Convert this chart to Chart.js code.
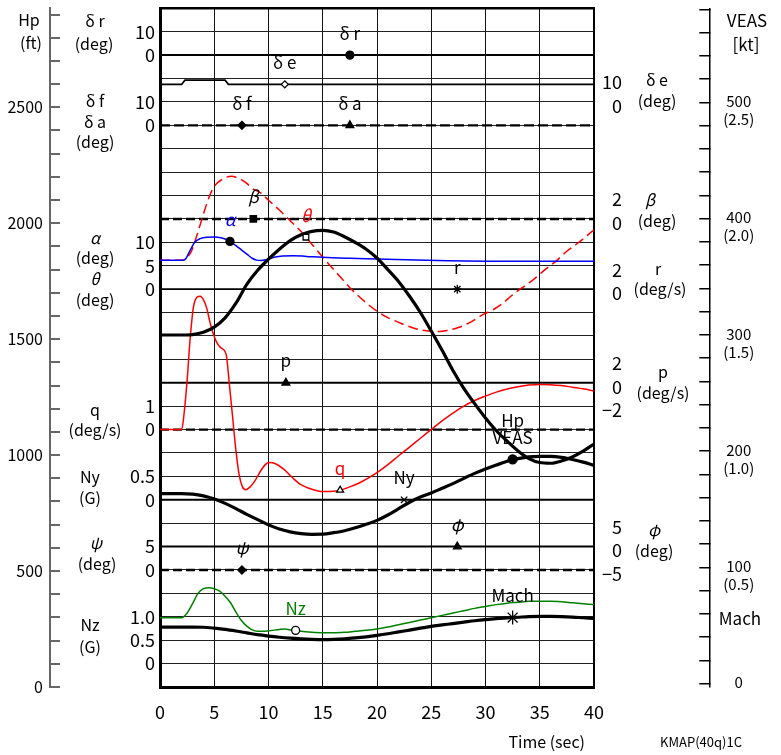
<!DOCTYPE html>
<html>
<head>
<meta charset="utf-8">
<script src="https://cdn.jsdelivr.net/npm/chart.js@4.4.1/dist/chart.umd.min.js"></script>
<style>
  html, body { margin: 0; padding: 0; background: #fff; }
  #wrap { width: 781px; height: 755px; position: relative; }
</style>
</head>
<body>
<div id="wrap"><canvas id="chart"></canvas></div>
<script>
// ── Data: [time (sec), value in the variable's own unit] ─────────────────────

const TIME_TICKS = [0, 5, 10, 15, 20, 25, 30, 35, 40];
const HP_LABELS = [0, 500, 1000, 1500, 2000, 2500];
const VEAS_LABELS = [0, 100, 200, 300, 400, 500];

const FLAT = [[0, 0], [40, 0]];               // traces that stay at zero
const DE = [[0, 7.5], [2.0, 7.5], [2.3, 9.3], [6.0, 9.3], [6.3, 7.5], [40, 7.5]];

const ALPHA = [[0, 6.15], [2, 6.15], [2.3, 6.3], [2.8, 8.4], [3.2, 10.0], [3.7, 10.8], [4.3, 11.1],
  [5, 11.15], [5.6, 11.0], [6, 10.7], [6.45, 10.2], [7, 9.3], [7.5, 8.4], [8, 7.5], [8.5, 6.6],
  [8.9, 6.2], [9.3, 6.1], [9.8, 6.3], [10.5, 6.8], [11.3, 7.1], [12.3, 7.15], [13.5, 7.0],
  [15, 6.8], [17.5, 6.6], [20, 6.45], [24.6, 6.15], [30.7, 5.95], [40, 5.95]];

const THETA = [[0, 6.15], [2, 6.15], [2.5, 6.8], [2.9, 8.1], [3.4, 11.5], [3.84, 14.8], [4.3, 18.2],
  [4.75, 20.9], [5.2, 22.5], [5.7, 23.4], [6.1, 23.9], [6.6, 24.1], [7.0, 23.9], [7.5, 23.4],
  [8.0, 22.6], [8.45, 21.6], [9.3, 20.5], [10, 19.0], [11, 16.9], [12, 14.6], [13, 12.3],
  [13.45, 11.1], [14, 9.6], [15.05, 6.7], [16, 4.2], [17, 1.6], [17.5, 0.3], [18.5, -1.9],
  [19.3, -3.5], [20, -4.7], [21, -6.1], [22, -7.1], [22.4, -7.5], [23.5, -8.4], [24.9, -9.0],
  [25.7, -9.05], [26.5, -8.8], [27.5, -8.2], [28.5, -7.2], [29.8, -5.4], [30.7, -4.4],
  [31.5, -3.2], [32.5, -1.2], [33.5, 0.5], [34.5, 2.2], [35.3, 3.8], [36.5, 6.0], [37.5, 8.1],
  [38.5, 9.8], [39.3, 11.3], [40, 12.7]];

const Q = [[0, 0], [2.0, 0], [2.2, 0.6], [2.5, 2.1], [2.76, 3.78], [3.07, 5.2], [3.4, 5.65],
  [3.7, 5.7], [4.0, 5.55], [4.3, 5.2], [4.6, 4.6], [4.9, 4.1], [5.2, 3.75], [5.6, 3.5],
  [6.1, 3.2], [6.4, 1.9], [6.7, 0.5], [7.0, -0.9], [7.3, -1.95], [7.6, -2.45], [7.9, -2.57],
  [8.3, -2.45], [8.75, -2.19], [9.3, -1.75], [9.7, -1.5], [10.1, -1.41], [10.6, -1.45],
  [11.4, -1.69], [12.2, -2.05], [12.9, -2.33], [14, -2.55], [15, -2.65], [16, -2.64],
  [16.6, -2.59], [17.5, -2.45], [18.5, -2.25], [20, -1.84], [21, -1.5], [22, -1.12],
  [23, -0.75], [24, -0.37], [25, 0.0], [26, 0.37], [27, 0.7], [28, 1.0], [29, 1.24],
  [30, 1.43], [31, 1.6], [32, 1.73], [33, 1.83], [34, 1.9], [35, 1.93], [36, 1.92],
  [37, 1.88], [38, 1.81], [39, 1.74], [40, 1.65]];

const HP = [[0, 1518], [2, 1518], [3, 1520], [4, 1530], [5, 1552], [6, 1592], [7, 1655], [8, 1736],
  [9, 1797], [10, 1845], [11, 1888], [12, 1925], [13, 1950], [14, 1965], [15, 1969], [16, 1962],
  [17, 1942], [18, 1917], [19, 1888], [20, 1850], [21, 1800], [22, 1748], [23, 1685], [24, 1615],
  [25, 1535], [26, 1452], [27, 1365], [28, 1288], [29, 1222], [30, 1160], [31, 1105], [32, 1060],
  [33, 1018], [34, 985], [35, 968], [36, 965], [37, 975], [38, 992], [39, 1017], [40, 1048]];

const VEAS = [[0, 163.4], [2, 163.4], [3, 163], [4, 161.5], [5, 158.8], [6, 155], [7, 150.5],
  [8, 145.5], [9, 141], [10, 136.5], [11, 133], [12, 130.5], [13, 129], [14, 128.4], [15, 128.5],
  [16, 129.8], [17, 131.5], [18, 134], [19, 137], [20, 140.4], [21, 145], [22, 150.5], [23, 156],
  [24, 160.5], [25, 164], [26, 168], [27, 172], [28, 176.5], [29, 180.8], [30, 184.5], [31, 188],
  [32, 191.2], [33, 193.5], [34, 195], [35, 195.4], [36, 195.4], [37, 194.6], [38, 192.8],
  [39, 190.5], [40, 187.7]];

const MACH = [[0, 0.243], [3, 0.243], [4, 0.242], [5, 0.238], [6, 0.233], [7, 0.226], [8, 0.218],
  [9, 0.210], [10, 0.204], [11, 0.199], [12, 0.195], [13, 0.192], [14, 0.190], [15, 0.189],
  [16, 0.190], [17, 0.192], [18, 0.196], [19, 0.201], [20, 0.207], [21, 0.214], [22, 0.222],
  [23, 0.230], [24, 0.238], [25, 0.246], [26, 0.252], [27, 0.258], [28, 0.264], [29, 0.270],
  [30, 0.275], [31, 0.279], [32, 0.282], [33, 0.285], [34, 0.288], [35, 0.289], [36, 0.289],
  [37, 0.288], [38, 0.286], [39, 0.283], [40, 0.280]];

const NZ = [[0, 0.98], [2, 0.98], [2.5, 1.08], [3, 1.28], [3.5, 1.5], [4, 1.6], [4.5, 1.62],
  [5, 1.6], [5.5, 1.55], [6, 1.44], [6.5, 1.3], [7, 1.1], [7.5, 0.92], [8, 0.8], [8.5, 0.72],
  [9, 0.69], [9.5, 0.69], [10, 0.7], [11, 0.73], [11.5, 0.74], [12, 0.72], [12.5, 0.71],
  [13, 0.69], [14, 0.67], [15, 0.66], [16, 0.66], [17, 0.67], [18, 0.69], [19, 0.71], [20, 0.74],
  [21, 0.78], [22, 0.83], [23, 0.88], [24, 0.93], [25, 0.98], [26, 1.03], [27, 1.08], [28, 1.13],
  [29, 1.18], [30, 1.22], [31, 1.26], [32, 1.29], [33, 1.31], [34, 1.33], [35, 1.33], [36, 1.33],
  [37, 1.32], [38, 1.3], [39, 1.28], [40, 1.26]];

// marker symbols: [time, value]
const DR_MARK = [17.5, 0];
const DE_MARK = [11.5, 7.5];
const DF_MARK = [7.55, 0];
const DA_MARK = [17.5, 0];
const BETA_MARK = [8.6, 0];
const ALPHA_MARK = [6.45, 10.2];
const THETA_MARK = [13.45, 11.1];
const R_MARK = [27.4, 0];
const P_MARK = [11.6, 0];
const Q_MARK = [16.6, -2.59];
const NY_MARK = [22.5, 0];
const VEAS_MARK = [32.5, 192.9];
const PHI_MARK = [27.4, 0];
const PSI_MARK = [7.55, 0];
const NZ_MARK = [12.5, 0.71];
const MACH_MARK = [32.5, 0.2837];

// strip tick labels: [strip, label]
const LEFT_TICKS = [['dr', '10'], ['dr', '0'], ['dfa', '10'], ['dfa', '0'], ['ath', '10'], ['ath', '5'],
  ['ath', '0'], ['q', '1'], ['q', '0'], ['ny', '0.5'], ['ny', '0'], ['psi', '5'], ['psi', '0'],
  ['nz', '1.0'], ['nz', '0.5'], ['nz', '0']];
const RIGHT_TICKS = [['de', '10'], ['de', '0'], ['beta', '2'], ['beta', '0'], ['r', '2'], ['r', '0'],
  ['p', '2'], ['p', '0'], ['p', '−2'], ['phi', '5'], ['phi', '0'], ['phi', '−5']];

// ── Layout of the stacked strips (grid units of the common frame) ───────────

const GRID_UNITS = 29;
// strip: [grid unit of zero, value per grid unit]
const STRIP = {
  dr: [27, 10], de: [25, 10], dfa: [24, 10], beta: [20, 2], ath: [17, 5], r: [17, 2],
  p: [13, 2], q: [11, 1], ny: [8, 0.5], phi: [6, 5], psi: [5, 5], nz: [1, 0.5]
};
const HP_MAX = 2927;
const VEAS_MIN = -3, VEAS_MAX = 581;

const FONT = "'Noto Sans CJK JP', 'Noto Sans', sans-serif";
Chart.defaults.font.family = FONT;
Chart.defaults.color = '#000';

function unitOf(key, label) {
  const [u0, k] = STRIP[key];
  return u0 + parseFloat(label.replace('−', '-')) / k;
}

function stripScale(key) {
  const [u0, k] = STRIP[key];
  return { type: 'linear', display: false, min: -u0 * k, max: (GRID_UNITS - u0) * k };
}

const fixW = w => s => { s.width = w; s.paddingTop = s.paddingBottom = s.paddingLeft = s.paddingRight = 0; };
const fixH = h => s => { s.height = h; s.paddingTop = s.paddingBottom = s.paddingLeft = s.paddingRight = 0; };

function pts(arr) { return arr.map(([x, y]) => ({ x, y })); }

function trace(data, axis, color, width, dash, extra) {
  return Object.assign({
    data: pts(data), yAxisID: axis, borderColor: color, borderWidth: width,
    borderDash: dash || [], pointRadius: 0, fill: false, cubicInterpolationMode: 'monotone'
  }, extra || {});
}

function mark(p, axis, style, radius, filled, tag) {
  return {
    data: [{ x: p[0], y: p[1] }], yAxisID: axis, showLine: false,
    pointStyle: style, pointRadius: radius, pointBorderWidth: 1.3,
    pointBackgroundColor: filled ? '#000' : '#fff', pointBorderColor: '#000', tag
  };
}

const BLUE = '#0000ff', RED = '#ff0000', GREEN = '#008000';

// first dataset is drawn on top
const datasets = [
  mark(DR_MARK, 's_dr', 'circle', 4, true, { text: ['δ r'] }),
  mark(DE_MARK, 's_de', 'rectRot', 3.5, false, { text: ['δ e'] }),
  mark(DF_MARK, 's_dfa', 'rectRot', 4, true, { text: ['δ f'] }),
  mark(DA_MARK, 's_dfa', 'triangle', 4.5, true, { text: ['δ a'] }),
  mark(BETA_MARK, 's_beta', 'rect', 4.5, true, { text: ['β'], italic: true }),
  mark(ALPHA_MARK, 's_ath', 'circle', 4, true, { text: ['α'], italic: true, color: BLUE }),
  mark(THETA_MARK, 's_ath', 'rect', 4, false, { text: ['θ'], italic: true, color: RED }),
  mark(R_MARK, 's_r', 'star', 4.5, true, { text: ['r'] }),
  mark(P_MARK, 's_p', 'triangle', 4.5, true, { text: ['p'] }),
  mark(Q_MARK, 's_q', 'triangle', 4, false, { text: ['q'], color: RED }),
  mark(NY_MARK, 's_ny', 'crossRot', 4.5, true, { text: ['Ny'] }),
  mark(VEAS_MARK, 'yV', 'circle', 4.5, true, { text: ['Hp', 'VEAS'] }),
  mark(PHI_MARK, 's_phi', 'triangle', 4.5, true, { text: ['φ'], italic: true }),
  mark(PSI_MARK, 's_psi', 'rectRot', 4, true, { text: ['ψ'], italic: true }),
  mark(NZ_MARK, 's_nz', 'circle', 4, false, { text: ['Nz'], color: GREEN }),
  mark(MACH_MARK, 'yMach', 'star', 7, true, { text: ['Mach'] }),

  trace(HP, 'yHp', '#000', 3.2),
  trace(VEAS, 'yV', '#000', 3.2),
  trace(MACH, 'yMach', '#000', 3.2),
  trace(ALPHA, 's_ath', BLUE, 1.5),
  trace(THETA, 's_ath', RED, 1.5, [10, 5]),
  trace(Q, 's_q', RED, 1.5),
  trace(NZ, 's_nz', GREEN, 1.5),
  trace(DE, 's_de', '#000', 1.6, [], { cubicInterpolationMode: 'default', tension: 0 }),

  trace(FLAT, 's_dr', '#000', 2),
  trace(FLAT, 's_dfa', '#000', 2.2, [10, 4]),
  trace(FLAT, 's_beta', '#000', 2.5, [9, 4]),
  trace(FLAT, 's_r', '#000', 1.8),
  trace(FLAT, 's_p', '#000', 2),
  trace(FLAT, 's_q', '#000', 2.2, [9, 4]),
  trace(FLAT, 's_ny', '#000', 1.8),
  trace(FLAT, 's_phi', '#000', 2),
  trace(FLAT, 's_psi', '#000', 2.5, [9, 4])
];

const scales = {
  x: {
    type: 'linear', position: 'bottom', min: 0, max: 40,
    afterBuildTicks: s => { s.ticks = TIME_TICKS.map(v => ({ value: v })); },
    ticks: { font: { size: 18 }, padding: 14, autoSkip: false, maxRotation: 0 },
    grid: { color: '#111', lineWidth: 1, drawTicks: false },
    border: { color: '#000', width: 3 },
    afterFit: fixH(68)
  },
  x2: {
    type: 'linear', position: 'top', min: 0, max: 40,
    ticks: { display: false }, grid: { display: false, drawTicks: false },
    border: { color: '#000', width: 2.5 },
    afterFit: fixH(7)
  },
  yGrid: {
    type: 'linear', position: 'left', weight: 0, min: 0, max: GRID_UNITS,
    afterBuildTicks: s => {
      s.ticks = [];
      for (let u = 1; u < GRID_UNITS; u++) s.ticks.push({ value: u });
    },
    ticks: { display: false },
    grid: { color: '#222', lineWidth: 1, drawTicks: false },
    border: { display: false },
    afterFit: fixW(0)
  },
  yLabL: {
    type: 'linear', position: 'left', weight: 1, min: 0, max: GRID_UNITS,
    afterBuildTicks: s => { s.ticks = LEFT_TICKS.map(([k, l]) => ({ value: unitOf(k, l) })); },
    ticks: {
      autoSkip: false, padding: 5, crossAlign: 'near', font: { size: 18 },
      callback: (v, i) => LEFT_TICKS[i][1]
    },
    grid: { display: false, drawTicks: false },
    border: { color: '#000', width: 3 },
    afterFit: fixW(110)
  },
  yHp: {
    type: 'linear', position: 'left', weight: 2, min: 0, max: HP_MAX,
    afterBuildTicks: s => {
      s.ticks = [];
      for (let v = 0; v < HP_MAX; v += 100) s.ticks.push({ value: v });
    },
    ticks: {
      autoSkip: false, padding: 17, crossAlign: 'near', font: { size: 16 },
      callback: v => HP_LABELS.includes(v) ? String(v) : ''
    },
    grid: { drawOnChartArea: false, drawTicks: true, tickLength: -10, color: '#666', lineWidth: 2 },
    border: { color: '#666', width: 2 },
    afterFit: fixW(50)
  },
  yLabR: {
    type: 'linear', position: 'right', weight: 0, min: 0, max: GRID_UNITS,
    afterBuildTicks: s => { s.ticks = RIGHT_TICKS.map(([k, l]) => ({ value: unitOf(k, l) })); },
    ticks: {
      autoSkip: false, padding: 0, crossAlign: 'far', font: { size: 18 }, labelOffset: 4,
      callback: (v, i) => RIGHT_TICKS[i][1]
    },
    grid: { display: false, drawTicks: false },
    border: { color: '#000', width: 2 },
    afterFit: fixW(28)
  },
  yGap: {
    type: 'linear', position: 'right', weight: 1, min: 0, max: 1,
    ticks: { display: false }, grid: { display: false, drawTicks: false },
    border: { display: false },
    afterFit: fixW(87.3)
  },
  yV: {
    type: 'linear', position: 'right', weight: 2, min: VEAS_MIN, max: VEAS_MAX,
    afterBuildTicks: s => {
      s.ticks = [];
      for (let v = 0; v <= 580; v += 20) s.ticks.push({ value: v });
    },
    ticks: {
      autoSkip: false, padding: 24, crossAlign: 'center', font: { size: 15 }, labelOffset: 8,
      callback: v => {
        if (!VEAS_LABELS.includes(v)) return '';
        if (v === 0) return ['0', ''];
        return [String(v), '(' + (v / 200).toFixed(1) + ')'];
      }
    },
    grid: { drawOnChartArea: false, drawTicks: true, tickLength: -10, color: '#000', lineWidth: 1.5 },
    border: { color: '#000', width: 1.5 },
    afterFit: fixW(71.7)
  },
  yMach: { type: 'linear', display: false, min: VEAS_MIN / 200, max: VEAS_MAX / 200 }
};
for (const key in STRIP) scales['s_' + key] = stripScale(key);

// axis names and free text: [text, x, y, size, align, italic]
const FREE_TEXT = [
  ['Hp', 29, 20, 16], ['(ft)', 31, 43, 16],
  ['δ r', 95, 21, 16], ['(deg)', 94, 44, 16],
  ['δ f', 95, 101, 16], ['δ a', 95, 121.5, 16], ['(deg)', 95, 141.5, 16],
  ['α', 95, 238, 16, 'center', true], ['(deg)', 95, 258, 16],
  ['θ', 95, 279, 16, 'center', true], ['(deg)', 95, 300, 16],
  ['q', 95, 410, 16], ['(deg/s)', 95, 430, 16],
  ['Ny', 90, 477, 16], ['(G)', 90, 497.5, 16],
  ['ψ', 96, 543, 16, 'center', true], ['(deg)', 97, 564, 16],
  ['Nz', 90, 625, 16], ['(G)', 90, 646.5, 16],
  ['δ e', 657, 79.5, 16], ['(deg)', 657, 101, 16],
  ['β', 650, 200, 16, 'center', true], ['(deg)', 657, 221, 16],
  ['r', 658, 269, 16], ['(deg/s)', 660, 289, 16],
  ['p', 663, 372, 16], ['(deg/s)', 663, 393, 16],
  ['φ', 654, 530, 16, 'center', true], ['(deg)', 654, 551, 16],
  ['VEAS', 747, 21, 17], ['[kt]', 746, 45, 17],
  ['Mach', 740, 619, 17],
  ['Time (sec)', 585, 742, 16, 'right'],
  ['KMAP(40q)1C', 701, 742, 13]
];

const textPlugin = {
  id: 'freeText',
  afterDraw(chart) {
    const ctx = chart.ctx;
    ctx.save();
    ctx.textBaseline = 'middle';
    for (const [text, x, y, size, align, italic] of FREE_TEXT) {
      ctx.font = `${italic ? 'italic ' : ''}${size}px ${FONT}`;
      ctx.textAlign = align || 'center';
      ctx.fillStyle = '#000';
      ctx.fillText(text, x, y);
    }
    // names written just above their marker symbols
    ctx.textAlign = 'center';
    chart.data.datasets.forEach((ds, i) => {
      if (!ds.tag) return;
      const el = chart.getDatasetMeta(i).data[0];
      if (!el) return;
      const n = ds.tag.text.length;
      ctx.font = `${ds.tag.italic ? 'italic ' : ''}17px ${FONT}`;
      ctx.fillStyle = ds.tag.color || '#000';
      ds.tag.text.forEach((t, k) => ctx.fillText(t, el.x, el.y - 22 - (n - 1 - k) * 17));
    });
    ctx.restore();
  }
};

new Chart(document.getElementById('chart'), {
  type: 'line',
  data: { datasets },
  options: {
    responsive: true,
    maintainAspectRatio: false,
    animation: false,
    layout: { padding: 0 },
    plugins: { legend: { display: false }, tooltip: { enabled: false } },
    scales
  },
  plugins: [textPlugin]
});
</script>
</body>
</html>
